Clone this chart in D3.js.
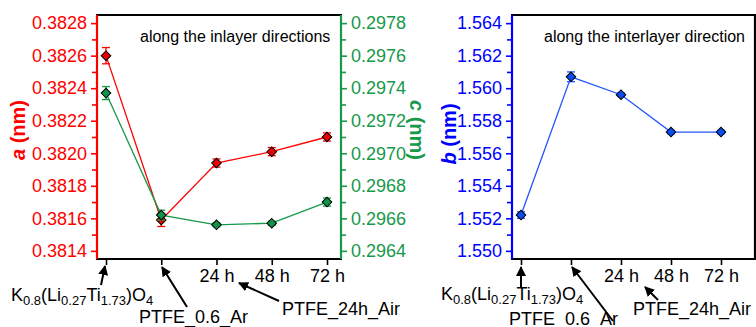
<!DOCTYPE html>
<html>
<head>
<meta charset="utf-8">
<script src="https://cdn.jsdelivr.net/npm/d3@7"></script>
<style>
  body { margin: 0; background: #fff; }
  svg { font-family: "Liberation Sans", Arial, sans-serif; }
</style>
</head>
<body>
<svg id="chart" width="756" height="327"></svg>
<script>
// data
var tickLabels = ["", "", "24 h", "48 h", "72 h"];
var aValues = [0.38260, 0.38159, 0.38194, 0.38201, 0.38210];
var aErr    = [0.00005, 0.00004, 0.000025, 0.000025, 0.000025];
var cValues = [0.29737, 0.29662, 0.29656, 0.29657, 0.29670];
var cErr    = [0.00004, 0.00003, 0.000012, 0.000012, 0.000025];
var bValues = [1.5522, 1.5607, 1.5596, 1.5573, 1.5573];
var bErr    = [0.0002, 0.0003, 0.0001, 0.0001, 0.0001];
var aTicks = [0.3814, 0.3816, 0.3818, 0.3820, 0.3822, 0.3824, 0.3826, 0.3828];
var cTicks = [0.2964, 0.2966, 0.2968, 0.2970, 0.2972, 0.2974, 0.2976, 0.2978];
var bTicks = [1.550, 1.552, 1.554, 1.556, 1.558, 1.560, 1.562, 1.564];

var RED = "#ff0000", GREEN = "#17994a", BLUE = "#0000ff";
var yTop = 15, yBot = 259;

var svg = d3.select("#chart");

var defs = svg.append("defs");
defs.append("marker")
    .attr("id", "arrow")
    .attr("viewBox", "0 0 10 10")
    .attr("refX", 9).attr("refY", 5)
    .attr("markerWidth", 5).attr("markerHeight", 5)
    .attr("markerUnits", "strokeWidth")
    .attr("orient", "auto")
  .append("path")
    .attr("d", "M0,0 L10,5 L0,10 z")
    .attr("fill", "#000");

// scales
var xL = d3.scaleLinear().domain([0, 4]).range([106, 327]);
var xR = d3.scaleLinear().domain([0, 4]).range([521, 721]);
var yA = d3.scaleLinear().domain([0.38135, 0.38285]).range([yBot, yTop]);
var yC = d3.scaleLinear().domain([0.29635, 0.29785]).range([yBot, yTop]);
var yB = d3.scaleLinear().domain([1.5495, 1.5645]).range([yBot, yTop]);

function minorTicks(ticks) {
  var out = [];
  for (var i = 0; i < ticks.length - 1; i++) out.push((ticks[i] + ticks[i + 1]) / 2);
  return out;
}

function styleAxis(g, color) {
  g.selectAll("path").attr("stroke", color).attr("stroke-width", 2.2);
  g.selectAll("line").attr("stroke", color).attr("stroke-width", 1.6);
  g.selectAll("text").attr("fill", color).attr("font-size", 18)
    .attr("font-family", "Liberation Sans, Arial, sans-serif");
}

function yAxis(x0, scale, ticks, color, right) {
  var mk = right ? d3.axisRight : d3.axisLeft;
  var minor = svg.append("g").attr("transform", "translate(" + x0 + ",0)")
      .call(mk(scale).tickValues(minorTicks(ticks)).tickSize(5).tickFormat(""));
  minor.select("path").remove();
  minor.selectAll("line").attr("stroke", color).attr("stroke-width", 1.6);
  var g = svg.append("g").attr("transform", "translate(" + x0 + ",0)")
      .call(mk(scale).tickValues(ticks).tickSize(6).tickSizeOuter(0).tickPadding(4)
        .tickFormat(function(d) { return d.toFixed(ticks[0] > 1 ? 3 : 4); }));
  g.select(".domain").attr("d", "M0," + yTop + "V" + yBot);
  styleAxis(g, color);
}

function xAxis(scale, x0, x1) {
  svg.append("line").attr("x1", x0).attr("x2", x1).attr("y1", yTop).attr("y2", yTop)
    .attr("stroke", "#000").attr("stroke-width", 2.2);
  var g = svg.append("g").attr("transform", "translate(0," + yBot + ")")
      .call(d3.axisBottom(scale).tickValues([0, 1, 2, 3, 4]).tickSize(6).tickPadding(4)
        .tickFormat(function(d) { return tickLabels[d]; }));
  g.select(".domain").attr("d", "M" + x0 + ",0H" + x1);
  styleAxis(g, "#000");
}

function series(xs, ys, vals, errs, color, fill) {
  var line = d3.line().x(function(d, i) { return xs(i); }).y(function(d) { return ys(d); });
  svg.append("path").datum(vals).attr("d", line)
    .attr("fill", "none").attr("stroke", color).attr("stroke-width", 1.3);
  var eb = svg.append("g").attr("stroke", color).attr("stroke-width", 1.3);
  vals.forEach(function(v, i) {
    var x = xs(i), y1 = ys(v - errs[i]), y2 = ys(v + errs[i]);
    eb.append("line").attr("x1", x).attr("x2", x).attr("y1", y1).attr("y2", y2);
    eb.append("line").attr("x1", x - 4).attr("x2", x + 4).attr("y1", y1).attr("y2", y1);
    eb.append("line").attr("x1", x - 4).attr("x2", x + 4).attr("y1", y2).attr("y2", y2);
  });
  svg.append("g").selectAll("path").data(vals).enter().append("path")
    .attr("d", d3.symbol().type(d3.symbolSquare).size(46))
    .attr("transform", function(d, i) { return "translate(" + xs(i) + "," + ys(d) + ") rotate(45)"; })
    .attr("fill", fill).attr("stroke", "#000").attr("stroke-width", 1);
}

// left panel
xAxis(xL, 96, 342);
yAxis(97, yA, aTicks, RED, false);
yAxis(341, yC, cTicks, GREEN, true);
series(xL, yA, aValues, aErr, RED, "#ee0000");
series(xL, yC, cValues, cErr, GREEN, "#129148");

// right panel
xAxis(xR, 511, 756);
svg.append("line").attr("x1", 755).attr("x2", 755).attr("y1", yTop).attr("y2", yBot)
  .attr("stroke", "#000").attr("stroke-width", 2.2);
yAxis(512, yB, bTicks, BLUE, false);
series(xR, yB, bValues, bErr, "#2255ff", "#0a4cf0");

// panel captions
svg.append("text").attr("x", 140).attr("y", 42).attr("font-size", 16)
  .text("along the inlayer directions");
svg.append("text").attr("x", 544).attr("y", 42).attr("font-size", 16)
  .text("along the interlayer direction");

// axis titles
function axisTitle(x, y, angle, letter, color) {
  var t = svg.append("text")
    .attr("transform", "translate(" + x + "," + y + ") rotate(" + angle + ")")
    .attr("text-anchor", "middle").attr("dominant-baseline", "central")
    .attr("font-size", 20).attr("font-weight", "bold").attr("fill", color);
  t.append("tspan").attr("font-style", "italic").text(letter);
  t.append("tspan").text(" (nm)");
}
axisTitle(18, 130, -90, "a", RED);
axisTitle(417, 130, 90, "c", GREEN);
axisTitle(449, 134, -90, "b", BLUE);

// formula labels with subscripts
function formula(x, y) {
  var t = svg.append("text").attr("x", x).attr("y", y).attr("font-size", 18);
  var parts = [["K", 0], ["0.8", 1], ["(Li", 0], ["0.27", 1], ["Ti", 0], ["1.73", 1], [")O", 0], ["4", 1]];
  var prev = 0;
  parts.forEach(function(p) {
    var s = t.append("tspan").text(p[0]);
    if (p[1] !== prev) s.attr("dy", p[1] ? 4 : -4);
    if (p[1]) s.attr("font-size", 13);
    prev = p[1];
  });
}
function label(x, y, txt) {
  svg.append("text").attr("x", x).attr("y", y).attr("font-size", 18).text(txt);
}
function arrow(x1, y1, x2, y2) {
  svg.append("line").attr("x1", x1).attr("y1", y1).attr("x2", x2).attr("y2", y2)
    .attr("stroke", "#000").attr("stroke-width", 2).attr("marker-end", "url(#arrow)");
}

formula(11, 301);
label(139, 323, "PTFE_0.6_Ar");
label(282, 315, "PTFE_24h_Air");
arrow(101, 285, 105, 266);
arrow(187, 307, 162, 267);
arrow(279, 301, 239, 283);

formula(441, 300);
label(509, 325, "PTFE_0.6_Ar");
label(633, 315, "PTFE_24h_Air");
arrow(521, 288, 521, 267);
arrow(613, 321, 572, 267);
arrow(658, 300, 645, 287);
</script>
</body>
</html>
